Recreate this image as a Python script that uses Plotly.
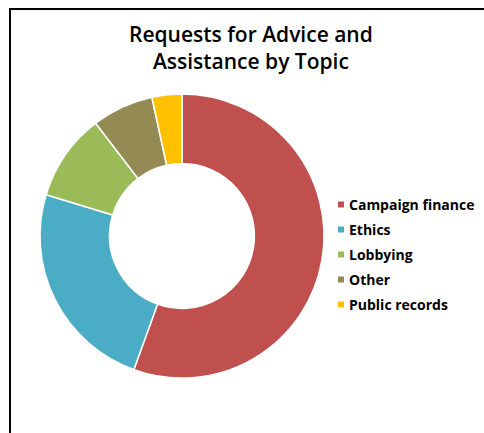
import plotly.graph_objects as go

labels = ["Campaign finance", "Ethics", "Lobbying", "Other", "Public records"]
values = [55.5, 24.2, 9.9, 7.0, 3.4]
colors = ["#C0504D", "#4BACC6", "#9BBB59", "#948A54", "#FFC000"]

W, H = 484, 433

fig = go.Figure(go.Pie(
    labels=labels, values=values, hole=0.51, sort=False, direction="clockwise",
    rotation=0, textinfo="none", hoverinfo="label+value", showlegend=False,
    marker=dict(colors=colors, line=dict(color="white", width=1.5)),
    domain=dict(x=[40 / W, 324 / W], y=[1 - 378 / H, 1 - 94 / H]),
))

# legend drawn as small square swatches + bold labels
shapes = [
    dict(type="line", xref="paper", yref="paper", x0=10 / W, x1=1.0,
         y0=1 - 9 / H, y1=1 - 9 / H, line=dict(color="black", width=2)),
    dict(type="line", xref="paper", yref="paper", x0=10 / W, x1=10 / W,
         y0=1 - 8 / H, y1=0, line=dict(color="black", width=2)),
]
annotations = []
y0px, gap = 204.5, 25
for i, (lab, col) in enumerate(zip(labels, colors)):
    yc = y0px + i * gap
    shapes.append(dict(type="rect", xref="paper", yref="paper",
                       x0=338 / W, x1=344 / W, y0=1 - (yc + 3) / H, y1=1 - (yc - 3) / H,
                       fillcolor=col, line=dict(width=0)))
    annotations.append(dict(text=lab, xref="paper", yref="paper",
                            x=347 / W, y=1 - yc / H, xanchor="left", yanchor="middle",
                            showarrow=False,
                            font=dict(size=14, color="#000000", family="Open Sans", weight="bold")))

annotations.append(dict(text="Requests for Advice and<br>Assistance by Topic",
                        xref="paper", yref="paper", x=251 / W, y=1 - 47.5 / H,
                        xanchor="center", yanchor="middle", showarrow=False,
                        font=dict(size=21, color="#000000", family="Open Sans", weight=600)))

fig.update_layout(
    width=W, height=H, margin=dict(l=0, r=0, t=0, b=0),
    paper_bgcolor="white", plot_bgcolor="white",
    font=dict(family="Open Sans", color="#000000"),
    shapes=shapes, annotations=annotations,
)

fig.write_html("out.html")
